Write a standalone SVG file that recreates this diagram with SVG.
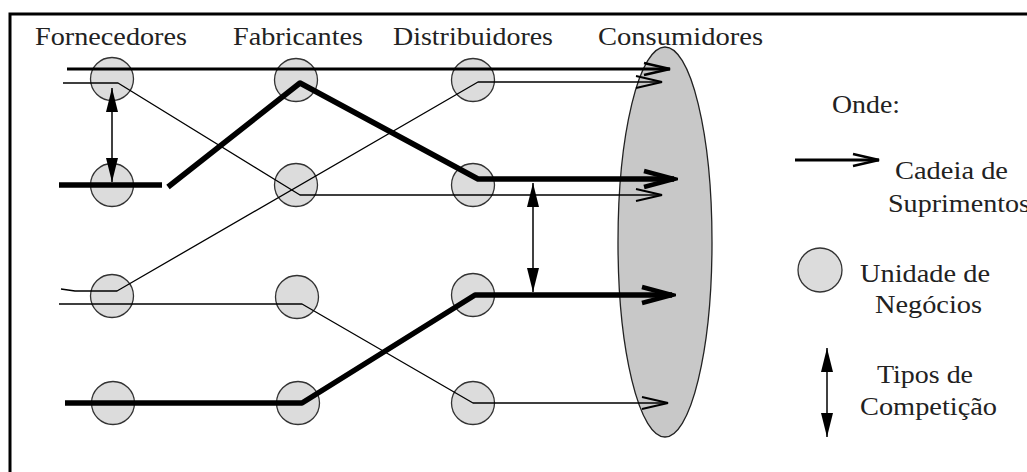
<svg xmlns="http://www.w3.org/2000/svg" width="1027" height="472" viewBox="0 0 1027 472">
<style>
.lbl{font-family:"Liberation Serif","DejaVu Serif",serif;font-size:26px;fill:#222}
.unit{fill:#dcdcdc;stroke:#333;stroke-width:1.3}
.thin{fill:none;stroke:#000;stroke-width:1.3;stroke-linejoin:round}
.med{fill:none;stroke:#000;stroke-width:3}
.thick{fill:none;stroke:#000;stroke-width:5.5;stroke-linejoin:round}
.comp{fill:none;stroke:#000;stroke-width:1.5}
</style>
<defs>
<marker id="openThin" markerUnits="userSpaceOnUse" markerWidth="34" markerHeight="22" viewBox="-30 -11 34 22" refX="0" refY="0" orient="auto">
<path d="M-26,-6 L0,0 L-26,6" fill="none" stroke="#000" stroke-width="1.8"/>
</marker>
<marker id="openMed" markerUnits="userSpaceOnUse" markerWidth="34" markerHeight="22" viewBox="-30 -11 34 22" refX="0" refY="0" orient="auto">
<path d="M-26,-6 L0,0 L-26,6" fill="none" stroke="#000" stroke-width="2.5"/>
</marker>
<marker id="openThick" markerUnits="userSpaceOnUse" markerWidth="40" markerHeight="28" viewBox="-36 -14 40 28" refX="0" refY="0" orient="auto">
<path d="M-30,-8 L0,0 L-30,8" fill="none" stroke="#000" stroke-width="4.5"/>
</marker>
<marker id="solid" markerUnits="userSpaceOnUse" markerWidth="30" markerHeight="16" viewBox="-28 -8 30 16" refX="0" refY="0" orient="auto-start-reverse">
<path d="M0,0 L-24,-6 L-24,6 z" fill="#000"/>
</marker>
</defs>
<rect x="0" y="0" width="1027" height="472" fill="#fff"/>
<rect x="10" y="14" width="1040" height="480" fill="none" stroke="#000" stroke-width="3"/>

<g id="titles">
<text class="lbl" x="35" y="45" textLength="152" lengthAdjust="spacingAndGlyphs">Fornecedores</text>
<text class="lbl" x="233" y="45" textLength="130" lengthAdjust="spacingAndGlyphs">Fabricantes</text>
<text class="lbl" x="393" y="45" textLength="160" lengthAdjust="spacingAndGlyphs">Distribuidores</text>
<text class="lbl" x="598" y="45" textLength="165" lengthAdjust="spacingAndGlyphs">Consumidores</text>
</g>

<g id="consumidores">
<ellipse cx="665" cy="242" rx="47" ry="195" fill="#c8c8c8" stroke="#222" stroke-width="1.3"/>
</g>

<g id="fornecedores">
<circle class="unit" cx="112" cy="79" r="21.5"/>
<circle class="unit" cx="112" cy="185" r="21.5"/>
<circle class="unit" cx="112" cy="296" r="21.5"/>
<circle class="unit" cx="113" cy="403" r="21.5"/>
</g>
<g id="fabricantes">
<circle class="unit" cx="296" cy="80" r="21.5"/>
<circle class="unit" cx="296" cy="185" r="21.5"/>
<circle class="unit" cx="297" cy="297" r="21.5"/>
<circle class="unit" cx="298" cy="403" r="21.5"/>
</g>
<g id="distribuidores">
<circle class="unit" cx="473" cy="80" r="21.5"/>
<circle class="unit" cx="473" cy="185" r="21.5"/>
<circle class="unit" cx="473" cy="295" r="21.5"/>
<circle class="unit" cx="473" cy="403" r="21.5"/>
</g>

<g id="connectors">
<path class="med" d="M67,69 L670,69" marker-end="url(#openMed)"/>
<path class="thin" d="M63,83 L118,83 L300,195 L662,195" marker-end="url(#openThin)"/>
<path class="thin" d="M61,289 L75,291 L117,291 L478,82 L662,82" marker-end="url(#openThin)"/>
<path class="thin" d="M59,304 L302,304 L473,403 L668,403" marker-end="url(#openThin)"/>
<path class="thick" d="M59,185 L162,185"/>
<path class="thick" d="M168,187 L300,83 L478,179 L674,179" marker-end="url(#openThick)"/>
<path class="thick" d="M65,403 L302,403 L475,295 L672,295" marker-end="url(#openThick)"/>
<path class="comp" d="M112,88 L112,182" marker-start="url(#solid)" marker-end="url(#solid)"/>
<path class="comp" d="M533,183 L533,292" marker-start="url(#solid)" marker-end="url(#solid)"/>
</g>

<g id="legenda">
<text class="lbl" x="832" y="113" textLength="68" lengthAdjust="spacingAndGlyphs">Onde:</text>
<path class="med" d="M795,160 L879,160" marker-end="url(#openMed)"/>
<text class="lbl" x="895" y="179" textLength="113" lengthAdjust="spacingAndGlyphs">Cadeia de</text>
<text class="lbl" x="888" y="212" textLength="142" lengthAdjust="spacingAndGlyphs">Suprimentos</text>
<circle class="unit" cx="820" cy="270" r="22"/>
<text class="lbl" x="860" y="282" textLength="130" lengthAdjust="spacingAndGlyphs">Unidade de</text>
<text class="lbl" x="875" y="313" textLength="107" lengthAdjust="spacingAndGlyphs">Negócios</text>
<path class="comp" d="M827,348 L827,437" marker-start="url(#solid)" marker-end="url(#solid)"/>
<text class="lbl" x="877" y="383" textLength="96" lengthAdjust="spacingAndGlyphs">Tipos de</text>
<text class="lbl" x="860" y="415" textLength="137" lengthAdjust="spacingAndGlyphs">Competição</text>
</g>
</svg>
